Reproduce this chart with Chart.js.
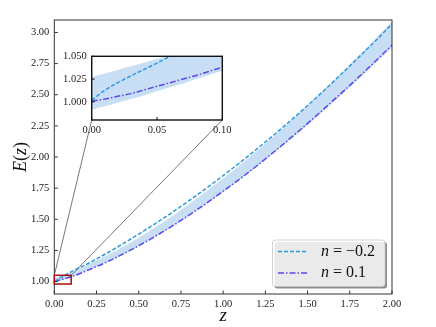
<!DOCTYPE html>
<html>
<head>
<meta charset="utf-8">
<script src="https://cdn.jsdelivr.net/npm/chart.js@4.4.0/dist/chart.umd.min.js"></script>
<style>
  body { margin: 0; background: #fff; }
  #wrap { position: relative; width: 436px; height: 327px; }
  #mainChart { position: absolute; left: 0; top: 0; }
  #insetChart { position: absolute; left: 50px; top: 45px; }
</style>
</head>
<body>
<div id="wrap">
  <canvas id="mainChart" width="436" height="327"></canvas>
  <canvas id="insetChart" width="190" height="100"></canvas>
</div>
<script>
// main panel data
const zMain = [0, 0.1, 0.2, 0.3, 0.4, 0.5, 0.6, 0.7, 0.8, 0.9, 1.0, 1.1, 1.2, 1.3, 1.4, 1.5, 1.6, 1.7, 1.8, 1.9, 2.0];
const eDashed = [1.0015, 1.078, 1.145, 1.219, 1.298, 1.381, 1.467, 1.557, 1.651, 1.749, 1.851, 1.956, 2.065, 2.177, 2.293, 2.413, 2.538, 2.666, 2.797, 2.930, 3.067];
const eDashDot = [1.0007, 1.038, 1.092, 1.150, 1.216, 1.288, 1.365, 1.447, 1.535, 1.628, 1.725, 1.825, 1.930, 2.040, 2.153, 2.270, 2.390, 2.513, 2.638, 2.767, 2.899];
const bandLow = [0.991, 1.034, 1.089, 1.148, 1.213, 1.284, 1.361, 1.443, 1.530, 1.622, 1.718, 1.818, 1.922, 2.030, 2.142, 2.257, 2.376, 2.497, 2.622, 2.750, 2.880];
const bandHigh = [1.027, 1.070, 1.137, 1.202, 1.274, 1.352, 1.437, 1.526, 1.622, 1.722, 1.827, 1.936, 2.049, 2.167, 2.288, 2.413, 2.541, 2.673, 2.808, 2.946, 3.087];

// inset (zoom on 0 <= z <= 0.1)
const zInset = [0, 0.01, 0.02, 0.03, 0.04, 0.05, 0.06, 0.07, 0.08, 0.09, 0.1];
const insetDashed = [1.0015, 1.0125, 1.021, 1.0285, 1.0355, 1.0425, 1.050, 1.057, 1.064, 1.071, 1.078];
const insetDashDot = [1.0007, 1.003, 1.006, 1.009, 1.013, 1.017, 1.021, 1.025, 1.029, 1.0335, 1.038];
const insetBandLow = [0.991, 0.995, 0.999, 1.003, 1.007, 1.0115, 1.016, 1.020, 1.025, 1.0295, 1.034];
const insetBandHigh = [1.027, 1.031, 1.035, 1.039, 1.043, 1.047, 1.051, 1.055, 1.059, 1.064, 1.068];

const seriesNames = ['n = \u22120.2', 'n = 0.1'];
const mainXTicks = [0, 0.25, 0.5, 0.75, 1.0, 1.25, 1.5, 1.75, 2.0];
const mainYTicks = [1.0, 1.25, 1.5, 1.75, 2.0, 2.25, 2.5, 2.75, 3.0];
const insetXTicks = [0, 0.05, 0.1];
const insetYTicks = [1.0, 1.025, 1.05];
const insetXRange = [0, 0.1];
const insetYRange = [0.98, 1.05];

const DASHED = '#2b9be0';
const DASHDOT = '#5e47ee';
const BAND = '#c7def5';
const tickFont = { family: 'Liberation Serif', size: 10.5 };

const pts = (xs, ys) => xs.map((x, i) => ({ x: x, y: ys[i] }));

const makeSets = (z, d, dd, lo, hi) => [
  { data: pts(z, d), borderColor: DASHED, borderWidth: 1.5, borderDash: [4, 2], pointRadius: 0, fill: false, cubicInterpolationMode: 'monotone' },
  { data: pts(z, dd), borderColor: DASHDOT, borderWidth: 1.5, borderDash: [6, 2, 1.5, 2], pointRadius: 0, fill: false, cubicInterpolationMode: 'monotone' },
  { data: pts(z, hi), borderWidth: 0, borderColor: BAND, backgroundColor: BAND, pointRadius: 0, fill: '+1', cubicInterpolationMode: 'monotone' },
  { data: pts(z, lo), borderWidth: 0, borderColor: BAND, pointRadius: 0, fill: false, cubicInterpolationMode: 'monotone' }
];

const axis = (min, max, ticks, digits, fitSize, isX) => ({
  type: 'linear', min: min, max: max,
  grid: { display: false, drawTicks: false },
  border: { display: false },
  afterBuildTicks: s => { s.ticks = ticks.map(v => ({ value: v })); },
  afterFit: s => { if (isX) s.height = fitSize; else s.width = fitSize; },
  ticks: { font: tickFont, color: '#222', padding: isX ? 4 : 5, maxRotation: 0, autoSkip: false,
           callback: v => Number(v).toFixed(digits) }
});

const drawInTicks = (ctx, chart, xt, yt, len) => {
  const a = chart.chartArea;
  ctx.beginPath();
  xt.forEach(v => { const p = chart.scales.x.getPixelForValue(v); ctx.moveTo(p, a.bottom); ctx.lineTo(p, a.bottom - len); });
  yt.forEach(v => { const p = chart.scales.y.getPixelForValue(v); ctx.moveTo(a.left, p); ctx.lineTo(a.left + len, p); });
  ctx.stroke();
};

// inset first, the main chart needs its frame for the connector lines
const insetDecor = {
  id: 'insetDecor',
  beforeDatasetsDraw(chart) {
    const a = chart.chartArea, ctx = chart.ctx;
    ctx.save();
    ctx.fillStyle = '#fff';
    ctx.fillRect(a.left, a.top, a.right - a.left, a.bottom - a.top);
    ctx.restore();
  },
  afterDraw(chart) {
    const a = chart.chartArea, ctx = chart.ctx;
    ctx.save();
    ctx.strokeStyle = '#111';
    ctx.lineWidth = 1;
    drawInTicks(ctx, chart, insetXTicks, insetYTicks, 3);
    ctx.lineWidth = 1.4;
    ctx.strokeRect(a.left, a.top, a.right - a.left, a.bottom - a.top);
    ctx.restore();
  }
};

const insetChart = new Chart(document.getElementById('insetChart'), {
  type: 'line',
  data: { datasets: makeSets(zInset, insetDashed, insetDashDot, insetBandLow, insetBandHigh) },
  options: {
    responsive: false, animation: false, events: [],
    layout: { padding: { left: 0, top: 10.7, right: 17.7, bottom: 0 } },
    plugins: { legend: { display: false }, tooltip: { enabled: false } },
    scales: {
      x: axis(insetXRange[0], insetXRange[1], insetXTicks, 2, 25, true),
      y: axis(insetYRange[0], insetYRange[1], insetYTicks, 3, 41.7, false)
    }
  },
  plugins: [insetDecor]
});

const mathWidth = (ctx, parts, size) => {
  let w = 0;
  parts.forEach(p => { ctx.font = p[1] + ' ' + size + 'px "Liberation Serif"'; w += ctx.measureText(p[0]).width; });
  return w;
};
const putMath = (ctx, parts, x, y, size) => {
  parts.forEach(p => {
    ctx.font = p[1] + ' ' + size + 'px "Liberation Serif"';
    ctx.fillText(p[0], x, y);
    x += ctx.measureText(p[0]).width;
  });
};

const mainDecor = {
  id: 'mainDecor',
  afterDraw(chart) {
    const a = chart.chartArea, ctx = chart.ctx;
    const xs = chart.scales.x, ys = chart.scales.y;
    ctx.save();
    // frame and inward ticks
    ctx.strokeStyle = '#333';
    ctx.lineWidth = 1;
    drawInTicks(ctx, chart, mainXTicks, mainYTicks, 3.5);
    ctx.strokeRect(a.left, a.top, a.right - a.left, a.bottom - a.top);

    // zoom box and connectors
    const x0 = xs.getPixelForValue(insetXRange[0]), x1 = xs.getPixelForValue(insetXRange[1]);
    const y0 = ys.getPixelForValue(insetYRange[1]), y1 = ys.getPixelForValue(insetYRange[0]);
    const ia = insetChart.chartArea, ox = 50, oy = 45;
    ctx.strokeStyle = '#555';
    ctx.lineWidth = 0.8;
    ctx.beginPath();
    ctx.moveTo(x0, y0); ctx.lineTo(ia.left + ox, ia.bottom + oy);
    ctx.moveTo(x1, y0); ctx.lineTo(ia.right + ox, ia.bottom + oy);
    ctx.stroke();
    ctx.strokeStyle = '#a30f0f';
    ctx.lineWidth = 1.5;
    ctx.strokeRect(x0, y0, x1 - x0, y1 - y0);

    // axis titles
    ctx.fillStyle = '#111';
    ctx.textBaseline = 'alphabetic';
    const zt = [['z', 'italic']];
    putMath(ctx, zt, (a.left + a.right) / 2 - mathWidth(ctx, zt, 19) / 2, 321, 19);
    const et = [['E', 'italic'], ['(', 'normal'], ['z', 'italic'], [')', 'normal']];
    ctx.save();
    ctx.translate(26, (a.top + a.bottom) / 2);
    ctx.rotate(-Math.PI / 2);
    putMath(ctx, et, -mathWidth(ctx, et, 18) / 2, 0, 18);
    ctx.restore();

    // legend
    const lx = 272.5, ly = 240, lw = 112.5, lh = 46.5;
    ctx.fillStyle = 'rgba(0,0,0,0.45)';
    ctx.beginPath(); ctx.roundRect(lx + 2, ly + 2, lw, lh, 3); ctx.fill();
    ctx.fillStyle = 'rgba(255,255,255,0.82)';
    ctx.strokeStyle = 'rgba(200,200,200,0.8)';
    ctx.lineWidth = 1;
    ctx.beginPath(); ctx.roundRect(lx, ly, lw, lh, 3); ctx.fill(); ctx.stroke();
    const rows = [[DASHED, [4, 2], 251.5], [DASHDOT, [6, 2, 1.5, 2], 273]];
    rows.forEach((r, i) => {
      ctx.strokeStyle = r[0];
      ctx.lineWidth = 1.5;
      ctx.setLineDash(r[1]);
      ctx.beginPath(); ctx.moveTo(278, r[2]); ctx.lineTo(308, r[2]); ctx.stroke();
      ctx.setLineDash([]);
      ctx.fillStyle = '#111';
      ctx.textBaseline = 'middle';
      const name = seriesNames[i];
      putMath(ctx, [[name.slice(0, 1), 'italic'], [name.slice(1), 'normal']], 321, r[2], 16);
    });
    ctx.restore();
  }
};

new Chart(document.getElementById('mainChart'), {
  type: 'line',
  data: { datasets: makeSets(zMain, eDashed, eDashDot, bandLow, bandHigh) },
  options: {
    responsive: false, animation: false, events: [],
    layout: { padding: { left: 0, top: 20, right: 44, bottom: 0 } },
    plugins: { legend: { display: false }, tooltip: { enabled: false } },
    scales: {
      x: axis(0, 2, mainXTicks, 2, 33, true),
      y: axis(0.9, 3.1, mainYTicks, 2, 54.3, false)
    }
  },
  plugins: [mainDecor]
});
</script>
</body>
</html>
